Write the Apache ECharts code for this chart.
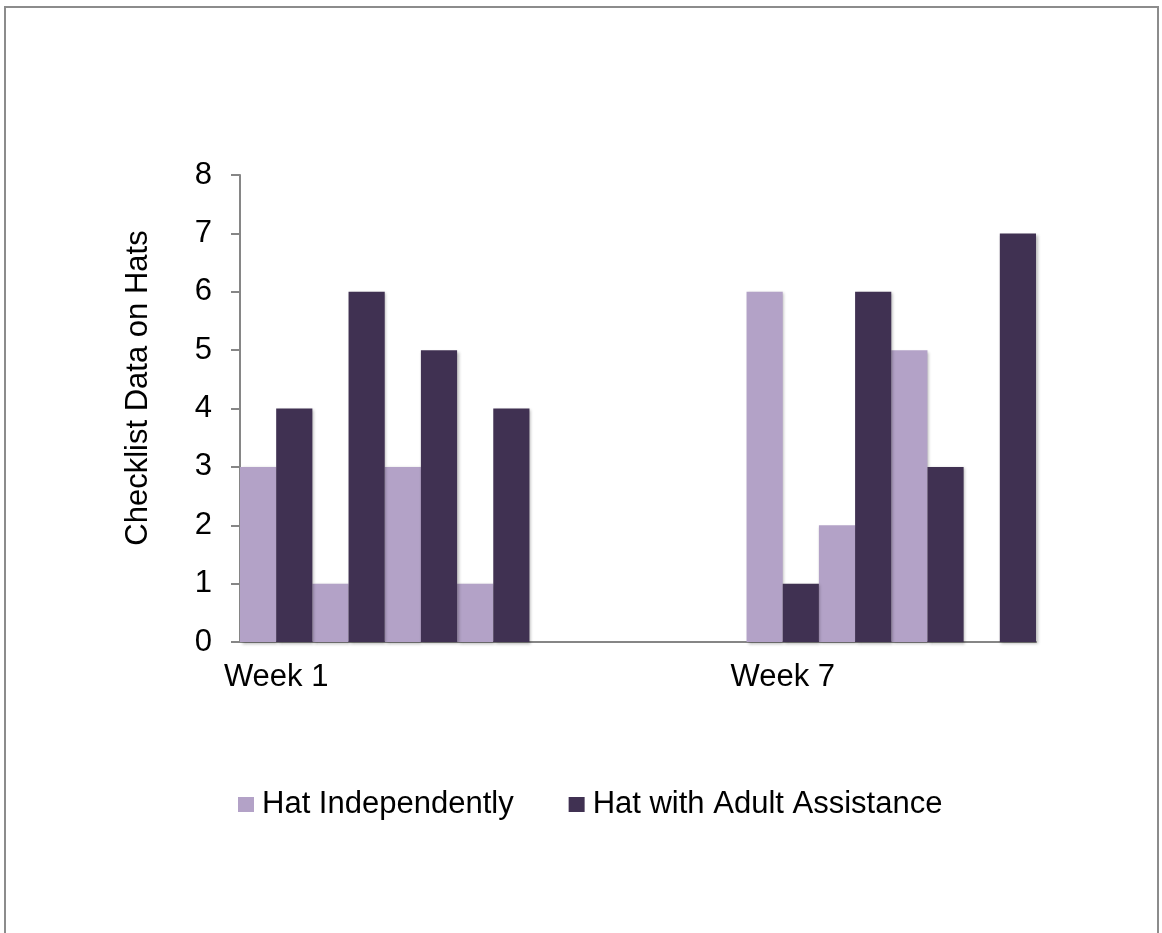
<!DOCTYPE html>
<html>
<head>
<meta charset="utf-8">
<script src="https://cdn.jsdelivr.net/npm/echarts@6/dist/echarts.min.js"></script>
<style>
  html, body { margin: 0; padding: 0; background: #ffffff; }
  #chart { width: 1162px; height: 933px; }
</style>
</head>
<body>
<div id="chart"></div>
<script>
// ---- data ----
var categories = ['Week 1', '', '', '', '', '', '', 'Week 7', '', '', ''];
var hatIndependently = [3, 1, 3, 1, null, null, null, 6, 2, 5, null];
var hatWithAdult = [4, 6, 5, 4, null, null, null, 1, 6, 3, 7];
var seriesNames = ['Hat Independently', 'Hat with Adult Assistance'];
var yTitle = 'Checklist Data on Hats';

var FONT = '"Liberation Sans", Arial, sans-serif';
var AXIS_GRAY = '#868686';

var chart = echarts.init(document.getElementById('chart'), null, { renderer: 'canvas' });

var barShadow = {
  shadowColor: 'rgba(0,0,0,0.28)',
  shadowBlur: 3,
  shadowOffsetX: 1.5,
  shadowOffsetY: 1.5
};

chart.setOption({
  backgroundColor: '#ffffff',
  animation: false,
  textStyle: { fontFamily: FONT },
  grid: { left: 240, right: 126, top: 175, bottom: 291, containLabel: false },
  graphic: [
    {
      type: 'rect',
      shape: { x: 5, y: 7, width: 1153, height: 950 },
      style: { fill: 'none', stroke: '#8c8c8c', lineWidth: 2 },
      silent: true,
      z: -10
    },
    {
      type: 'text',
      x: 138,
      y: 388,
      rotation: Math.PI / 2,
      style: {
        text: yTitle,
        fontSize: 31,
        fontFamily: FONT,
        fill: '#000000',
        textAlign: 'center',
        textVerticalAlign: 'middle'
      },
      silent: true
    }
  ],
  legend: {
    data: seriesNames,
    left: 233,
    top: 784,
    icon: 'rect',
    itemWidth: 16,
    itemHeight: 15,
    itemGap: 55,
    textStyle: { fontSize: 31, fontFamily: FONT, color: '#000000', padding: [0, 0, 0, 3] }
  },
  xAxis: {
    type: 'category',
    data: categories,
    axisLine: { show: true, lineStyle: { color: AXIS_GRAY, width: 2 } },
    axisTick: { show: false },
    axisLabel: { interval: 0, fontSize: 31, fontFamily: FONT, color: '#000000', margin: 20 },
    splitLine: { show: false }
  },
  yAxis: {
    type: 'value',
    min: 0,
    max: 8,
    interval: 1,
    axisLine: { show: true, lineStyle: { color: AXIS_GRAY, width: 2 } },
    axisTick: { show: true, length: 9, lineStyle: { color: AXIS_GRAY, width: 2 } },
    axisLabel: { fontSize: 31, fontFamily: FONT, color: '#000000', margin: 28 },
    splitLine: { show: false }
  },
  series: [
    {
      name: seriesNames[0],
      type: 'bar',
      data: hatIndependently,
      barGap: '0%',
      barCategoryGap: '0%',
      itemStyle: Object.assign({ color: '#b3a2c7' }, barShadow)
    },
    {
      name: seriesNames[1],
      type: 'bar',
      data: hatWithAdult,
      barGap: '0%',
      barCategoryGap: '0%',
      itemStyle: Object.assign({ color: '#403152' }, barShadow)
    }
  ]
});
</script>
</body>
</html>
